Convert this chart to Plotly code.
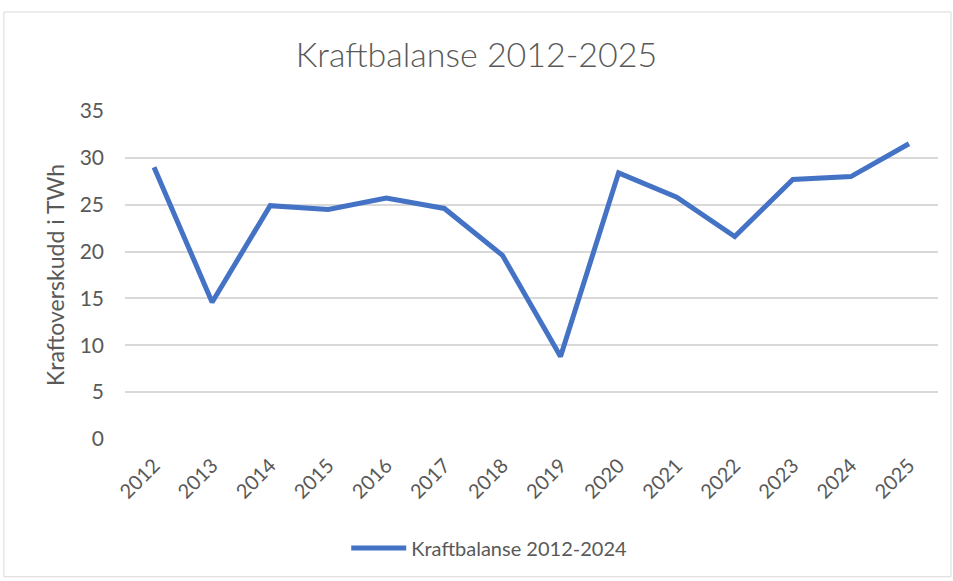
import plotly.graph_objects as go

years = ['2012', '2013', '2014', '2015', '2016', '2017', '2018',
         '2019', '2020', '2021', '2022', '2023', '2024', '2025']
balance = [29.0, 14.6, 24.9, 24.5, 25.7, 24.6, 19.6,
           8.8, 28.4, 25.8, 21.6, 27.7, 28.0, 31.5]

grey = '#595959'
font_family = 'Lato, "Open Sans", sans-serif'

fig = go.Figure()
fig.add_scatter(x=years, y=balance, mode='lines', name='Kraftbalanse 2012-2024',
                line=dict(color='#4472C4', width=5, shape='linear'))

fig.update_layout(
    width=953, height=581,
    margin=dict(l=125, r=15, t=111, b=142, autoexpand=False),
    paper_bgcolor='white', plot_bgcolor='white',
    font=dict(family=font_family, color=grey, size=20),
    title=dict(text='Kraftbalanse 2012-2025', x=0.5, xanchor='center',
               y=0.905, yanchor='middle', font=dict(size=34, color=grey, weight=300)),
    showlegend=True,
    legend=dict(orientation='h', x=0.448, xanchor='center', y=-0.332, yanchor='middle',
                font=dict(size=20, color=grey), itemwidth=55),
    xaxis=dict(tickangle=-45, showgrid=False, showline=False, ticks='',
               range=[-0.5, 13.5], ticklabelstandoff=10,
               tickfont=dict(size=20, color=grey)),
    yaxis=dict(range=[0, 35], dtick=5, showgrid=True, gridcolor='#D9D9D9', gridwidth=1.5,
               zeroline=False, showline=False, ticks='', ticklabelstandoff=20,
               tickfont=dict(size=21, color=grey),
               title=dict(text='Kraftoverskudd i TWh', font=dict(size=23, color=grey),
                          standoff=8)),
)

# chart frame border
fig.add_shape(type='rect', xref='paper', yref='paper',
              x0=-0.149, x1=1.016, y0=-0.42, y1=1.302,
              line=dict(color='#D9D9D9', width=1), fillcolor='rgba(0,0,0,0)', layer='below')

fig.write_html('out.html', config={'displayModeBar': False},
               post_script="document.body.style.margin='0';")
